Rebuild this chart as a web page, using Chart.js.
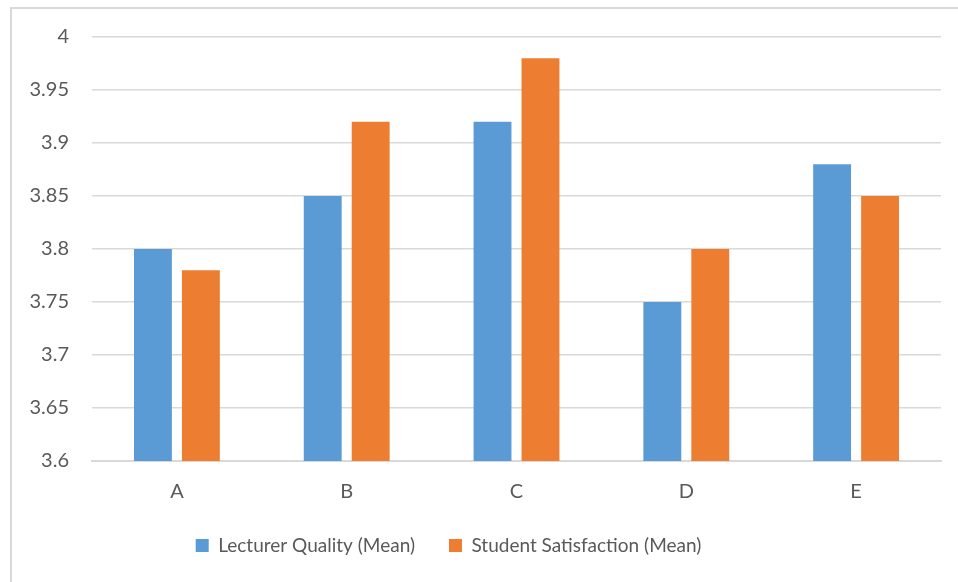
<!DOCTYPE html>
<html>
<head>
<meta charset="utf-8">
<script src="https://cdn.jsdelivr.net/npm/chart.js@4/dist/chart.umd.min.js"></script>
<style>
  html, body { margin: 0; padding: 0; background: #ffffff; overflow: hidden; }
  #wrap { position: relative; width: 958px; height: 582px; }
  #frame { position: absolute; left: 10px; top: 7px; width: 1000px; height: 1000px;
           border: 2px solid #d9d9d9; box-sizing: border-box; }
  #chart { position: absolute; left: 0; top: 0; }
</style>
</head>
<body>
<div id="wrap">
  <div id="frame"></div>
  <canvas id="chart" width="958" height="582"></canvas>
</div>
<script>
// Group labels along the x axis
const categories = ['A', 'B', 'C', 'D', 'E'];

// Mean scores per group
const lecturerQuality = [3.80, 3.85, 3.92, 3.75, 3.88];
const studentSatisfaction = [3.78, 3.92, 3.98, 3.80, 3.85];

// Value axis labels, bottom to top
const yTickLabels = ['3.6', '3.65', '3.7', '3.75', '3.8', '3.85', '3.9', '3.95', '4'];

const textColor = '#595959';
const gridColor = '#d9d9d9';
const fontFamily = 'Lato, "Open Sans", sans-serif';
const tickFontSize = 20;
const legendFontSize = 19;

// Legend sits a little left of the canvas centre
const legendShift = {
  id: 'legendShift',
  afterLayout(chart) {
    const lg = chart.legend;
    if (lg) { lg.left -= 27; lg.right -= 27; }
  }
};

new Chart(document.getElementById('chart'), {
  type: 'bar',
  data: {
    labels: categories,
    datasets: [
      {
        label: 'Lecturer Quality (Mean)',
        data: lecturerQuality,
        backgroundColor: '#5b9bd5',
        borderWidth: 0
      },
      {
        label: 'Student Satisfaction (Mean)',
        data: studentSatisfaction,
        backgroundColor: '#ed7d31',
        borderWidth: 0
      }
    ]
  },
  plugins: [legendShift],
  options: {
    responsive: false,
    animation: false,
    layout: { padding: { left: 10, right: 17, top: 37, bottom: 17 } },
    datasets: {
      bar: { categoryPercentage: 0.565, barPercentage: 0.79 }
    },
    scales: {
      x: {
        grid: { display: false, drawTicks: false },
        border: { display: true, color: gridColor, width: 2 },
        ticks: { color: textColor, font: { family: fontFamily, size: tickFontSize }, padding: 19 },
        afterFit: (scale) => { scale.height = 41; }
      },
      y: {
        min: 3.6,
        max: 4,
        grid: { color: gridColor, lineWidth: 1.5, drawTicks: false },
        border: { display: false },
        ticks: {
          stepSize: 0.05,
          padding: 23,
          color: textColor,
          font: { family: fontFamily, size: tickFontSize },
          callback: (value, index) => yTickLabels[index]
        },
        afterFit: (scale) => { scale.width = 82; }
      }
    },
    plugins: {
      tooltip: { enabled: false },
      legend: {
        position: 'bottom',
        labels: {
          color: textColor,
          font: { family: fontFamily, size: legendFontSize },
          boxWidth: 13,
          boxHeight: 13,
          padding: 34
        }
      }
    }
  }
});
</script>
</body>
</html>
